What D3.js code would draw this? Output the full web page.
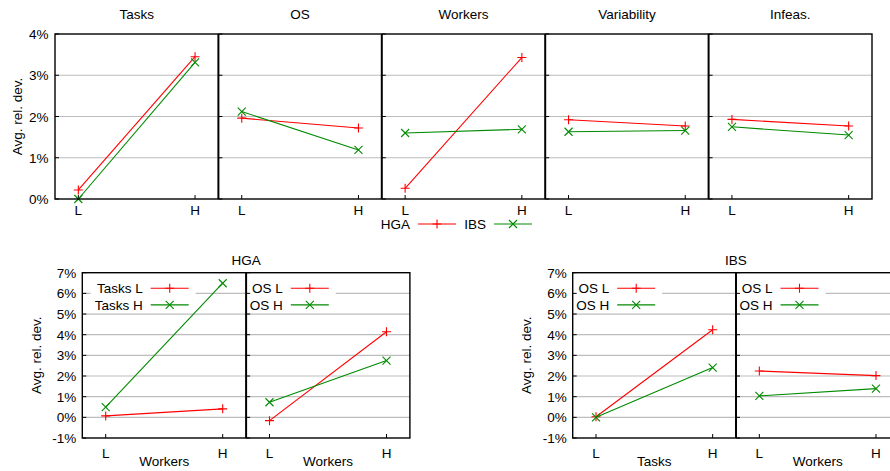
<!DOCTYPE html>
<html>
<head>
<meta charset="utf-8">
<script src="https://cdn.jsdelivr.net/npm/d3@7"></script>
<style>
html,body{margin:0;padding:0;background:#fff;}
svg{display:block;font-family:"Liberation Sans",Arial,Helvetica,sans-serif;}
</style>
</head>
<body>
<svg id="chart" width="890" height="471"></svg>
<script>
// ---------- data ----------
const levels = ["L", "H"];

// top row: one panel per factor, two algorithms
const topFactors = ["Tasks", "OS", "Workers", "Variability", "Infeas."];
const topSeriesNames = ["HGA", "IBS"];
const topHGA = [[0.22, 3.45], [1.96, 1.72], [0.26, 3.43], [1.92, 1.77], [1.93, 1.77]];
const topIBS = [[0.00, 3.31], [2.12, 1.19], [1.60, 1.69], [1.63, 1.66], [1.75, 1.55]];
const topYTicks = [0, 1, 2, 3, 4];

// bottom charts: interactions
const bottomYTicks = [-1, 0, 1, 2, 3, 4, 5, 6, 7];

const hgaTitle = "HGA";
const hgaXTitles = ["Workers", "Workers"];
const hgaLegend = [["Tasks L", "Tasks H"], ["OS L", "OS H"]];
const hgaValues = [
  [[0.07, 0.41], [0.49, 6.49]],
  [[-0.16, 4.14], [0.73, 2.75]]
];

const ibsTitle = "IBS";
const ibsXTitles = ["Tasks", "Workers"];
const ibsLegend = [["OS L", "OS H"], ["OS L", "OS H"]];
const ibsValues = [
  [[0.03, 4.24], [0.00, 2.41]],
  [[2.24, 2.02], [1.04, 1.39]]
];

const yLabel = "Avg. rel. dev.";

// ---------- styles ----------
const RED = "#ff0000", GREEN = "#008a00", GRID = "#bdbdbd";
const colors = [RED, GREEN];
const markers = ["plus", "cross"];
const FS = 13.5;

const svg = d3.select("#chart");
svg.append("rect").attr("width", 890).attr("height", 471).attr("fill", "#fff");

function drawMarker(g, type, x, y, color) {
  const s = type === "plus" ? 4.5 : 4;
  const p = type === "plus"
    ? `M${x - s},${y}H${x + s}M${x},${y - s}V${y + s}`
    : `M${x - s},${y - s}L${x + s},${y + s}M${x - s},${y + s}L${x + s},${y - s}`;
  g.append("path").attr("d", p).attr("stroke", color).attr("stroke-width", 1.1).attr("fill", "none");
}

// generic multi-panel chart
function drawChart(cfg) {
  const g = svg.append("g");
  const nP = cfg.panels.length;
  const y = d3.scaleLinear().domain(cfg.yDomain).range([cfg.bottom, cfg.top]);
  const right = cfg.left + cfg.pw * nP;

  // gridlines
  g.append("g").selectAll("line")
    .data(cfg.yTicks.filter(t => t > cfg.yDomain[0] && t < cfg.yDomain[1]))
    .join("line")
    .attr("x1", cfg.left).attr("x2", right)
    .attr("y1", d => y(d)).attr("y2", d => y(d))
    .attr("stroke", GRID).attr("stroke-width", 1.2);

  cfg.panels.forEach((p, i) => {
    const pl = cfg.left + i * cfg.pw;
    const x = d3.scalePoint().domain(levels).range([pl + cfg.pw * 0.2 / 1.4, pl + cfg.pw * 1.2 / 1.4]);

    // legend box inside panel
    if (p.legend) {
      const lg = g.append("g");
      const box = lg.append("rect").attr("fill", "#fff");
      const tEnd = pl + p.legendTextEnd;
      let minX = Infinity;
      p.legend.forEach((name, k) => {
        const yy = cfg.top + 15.5 + k * 16.7;
        const t = lg.append("text").attr("x", tEnd).attr("y", yy + 5)
          .attr("text-anchor", "end").attr("font-size", FS).text(name);
        minX = Math.min(minX, tEnd - t.node().getComputedTextLength());
        lg.append("line").attr("x1", tEnd + 8).attr("x2", tEnd + 46)
          .attr("y1", yy).attr("y2", yy).attr("stroke", colors[k]).attr("stroke-width", 1.1);
        drawMarker(lg, markers[k], tEnd + 27, yy, colors[k]);
      });
      box.attr("x", minX - 4).attr("y", cfg.top + 1).attr("width", tEnd + 53 - (minX - 4))
        .attr("height", 38);
      box.lower();
    }

    // ticks (inward)
    g.append("g").selectAll("line").data(cfg.yTicks).join("line")
      .attr("x1", pl).attr("x2", pl + 4).attr("y1", d => y(d)).attr("y2", d => y(d))
      .attr("stroke", "#000").attr("stroke-width", 1);
    g.append("g").selectAll("line").data(levels).join("line")
      .attr("x1", d => x(d)).attr("x2", d => x(d)).attr("y1", cfg.bottom).attr("y2", cfg.bottom - 4)
      .attr("stroke", "#000").attr("stroke-width", 1);

    // x tick labels
    g.append("g").selectAll("text").data(levels).join("text")
      .attr("x", d => x(d)).attr("y", cfg.bottom + cfg.xLabelGap).attr("text-anchor", "middle")
      .attr("font-size", FS).text(d => d);
    if (p.xTitle) {
      g.append("text").attr("x", pl + cfg.pw / 2).attr("y", cfg.bottom + 28)
        .attr("text-anchor", "middle").attr("font-size", FS).text(p.xTitle);
    }
    if (p.title) {
      g.append("text").attr("x", pl + cfg.pw / 2).attr("y", cfg.top - 14.7)
        .attr("text-anchor", "middle").attr("font-size", FS).text(p.title);
    }

    // series
    p.series.forEach((vals, k) => {
      const pts = levels.map((l, j) => [x(l), y(vals[j])]);
      g.append("path").attr("d", d3.line()(pts)).attr("stroke", colors[k])
        .attr("stroke-width", 1.1).attr("fill", "none");
      pts.forEach(pt => drawMarker(g, markers[k], pt[0], pt[1], colors[k]));
    });
  });

  // frame and dividers
  g.append("rect").attr("x", cfg.left).attr("y", cfg.top).attr("width", right - cfg.left)
    .attr("height", cfg.bottom - cfg.top).attr("fill", "none").attr("stroke", "#000").attr("stroke-width", 1.4);
  for (let i = 1; i < nP; i++) {
    const xx = cfg.left + i * cfg.pw;
    g.append("line").attr("x1", xx).attr("x2", xx).attr("y1", cfg.top).attr("y2", cfg.bottom)
      .attr("stroke", "#000").attr("stroke-width", 2);
  }

  // y tick labels
  g.append("g").selectAll("text").data(cfg.yTicks).join("text")
    .attr("x", cfg.left - cfg.tickGap).attr("y", d => y(d) + 5).attr("text-anchor", "end")
    .attr("font-size", FS).text(d => d + "%");

  // y label
  g.append("text").attr("transform", `translate(${cfg.yLabelX},${(cfg.top + cfg.bottom) / 2}) rotate(-90)`)
    .attr("text-anchor", "middle").attr("dy", "0.35em").attr("font-size", FS).text(yLabel);

  if (cfg.title) {
    g.append("text").attr("x", cfg.left + cfg.pw).attr("y", cfg.top - 7.5)
      .attr("text-anchor", "middle").attr("font-size", FS).text(cfg.title);
  }
  return g;
}

// top row
drawChart({
  left: 55, top: 34, bottom: 199, pw: 163.4, yDomain: [0, 4], yTicks: topYTicks,
  tickGap: 6.5, yLabelX: 17, xLabelGap: 15.7,
  panels: topFactors.map((f, i) => ({ title: f, series: [topHGA[i], topIBS[i]] }))
});

// top legend
(function () {
  const lg = svg.append("g");
  const yy = 224;
  [[410, 0], [486, 1]].forEach(([tEnd, k]) => {
    lg.append("text").attr("x", tEnd).attr("y", yy + 5.3).attr("text-anchor", "end")
      .attr("font-size", FS).text(topSeriesNames[k]);
    lg.append("line").attr("x1", tEnd + 8).attr("x2", tEnd + 46).attr("y1", yy).attr("y2", yy)
      .attr("stroke", colors[k]).attr("stroke-width", 1.1);
    drawMarker(lg, markers[k], tEnd + 27, yy, colors[k]);
  });
})();

// bottom left: HGA
drawChart({
  left: 82.3, top: 272.7, bottom: 438, pw: 163.8, yDomain: [-1, 7], yTicks: bottomYTicks,
  tickGap: 6, yLabelX: 36.7, title: hgaTitle, xLabelGap: 20,
  panels: [0, 1].map(i => ({ xTitle: hgaXTitles[i], legend: hgaLegend[i], legendTextEnd: i === 0 ? 60.4 : 36.7, series: hgaValues[i] }))
});

// bottom right: IBS
drawChart({
  left: 572.7, top: 272.7, bottom: 438, pw: 163.3, yDomain: [-1, 7], yTicks: bottomYTicks,
  tickGap: 6, yLabelX: 526.7, title: ibsTitle, xLabelGap: 20,
  panels: [0, 1].map(i => ({ xTitle: ibsXTitles[i], legend: ibsLegend[i], legendTextEnd: 36.5, series: ibsValues[i] }))
});
</script>
</body>
</html>
